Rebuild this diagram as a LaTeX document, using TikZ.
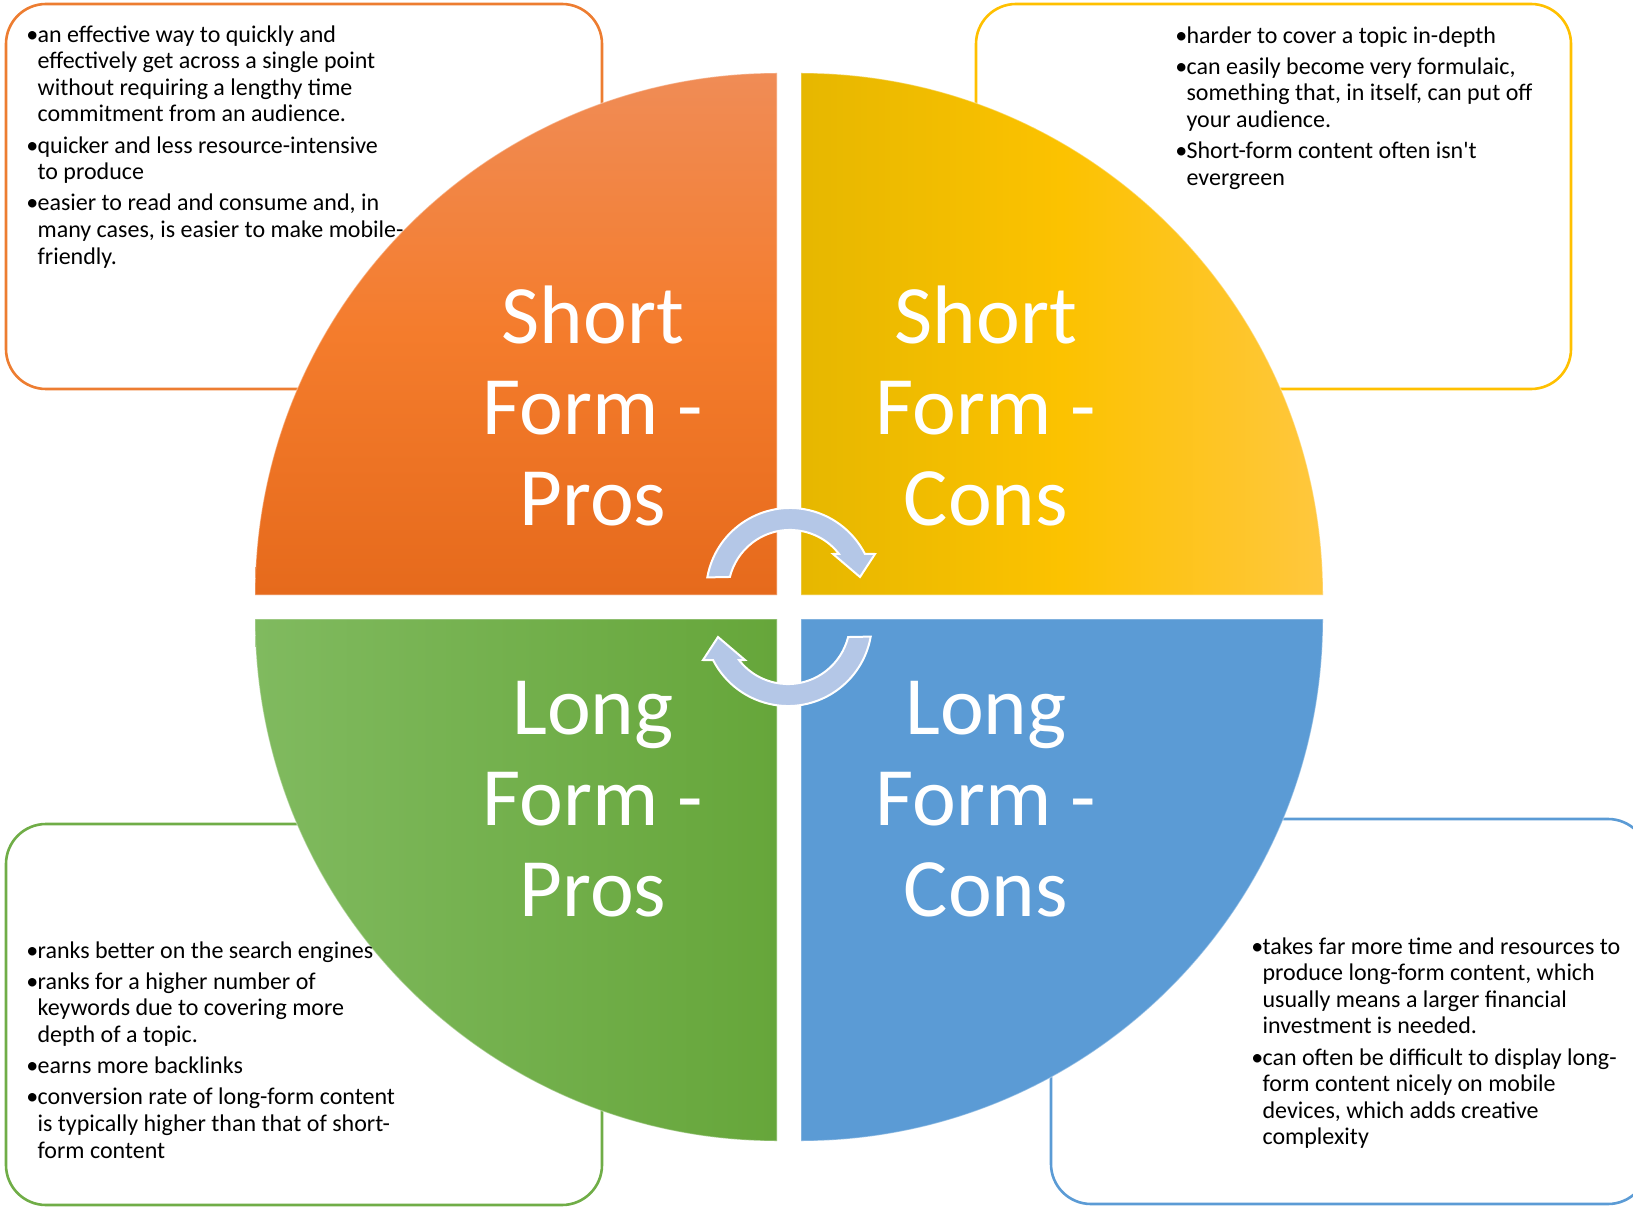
\documentclass[tikz,border=0pt]{standalone}
\usepackage{fontspec}
\setmainfont{Carlito}

\definecolor{spLine}{HTML}{ED7D31}
\definecolor{scLine}{HTML}{FFC000}
\definecolor{lpLine}{HTML}{70AD47}
\definecolor{lcLine}{HTML}{5B9BD5}
\definecolor{spTop}{HTML}{F08C56}
\definecolor{spMid}{HTML}{F47C2C}
\definecolor{spBottom}{HTML}{E66A1C}
\definecolor{scLeft}{HTML}{E6B700}
\definecolor{scMid}{HTML}{FCC200}
\definecolor{scRight}{HTML}{FFC73E}
\definecolor{lpLeft}{HTML}{80BA5F}
\definecolor{lpRight}{HTML}{66A63A}
\definecolor{lcFill}{HTML}{5B9BD5}
\definecolor{cycleFill}{HTML}{B4C7E7}

\newcommand{\dotitem}{\rule{0pt}{8pt}\makebox[5.6pt][l]{•}}
\newcommand{\dotcont}{\hspace*{5.6pt}}
\newcommand{\plainquote}{\XeTeXglyph\XeTeXcharglyph"0027\relax}

\begin{document}
\begin{tikzpicture} [
		x = 0.5pt,
		y = -0.5pt,
		infobox/.style = {
			fill = white,
			line width = 1.3pt,
			rounded corners = 20pt,
		},
		infotext/.style = {
			anchor = north west,
			inner sep = 0pt,
			align = left,
			font = \fontsize{12}{13.3}\selectfont,
		},
		quarter/.style = {
			draw = white,
			draw opacity = 0.35,
			line width = 0.6pt,
		},
		quadlabel/.style = {
			text = white,
			align = center,
			inner sep = 0pt,
			font = \fontsize{41.5}{45.5}\selectfont,
		},
		turn/.style = {
			fill = cycleFill,
			draw = white,
			line width = 1pt,
		},
	]

	\useasboundingbox (0,0) rectangle (1633,1208);
	\clip (0,0) rectangle (1633,1208);

	\coordinate (hub) at (789,607);

	\draw[infobox, draw = spLine] (6,4) rectangle (602,389);
	\draw[infobox, draw = scLine] (976,4) rectangle (1571,389);
	\draw[infobox, draw = lpLine] (6,824) rectangle (602,1205);
	\draw[infobox, draw = lcLine] (1051,819) rectangle (1648,1204);

	\path[quarter, top color = spTop, bottom color = spBottom, middle color = spMid]
		(777,595) -- (255,595) arc[start angle = 180, end angle = 270, radius = 522] -- cycle;
	\path[quarter, left color = scLeft, right color = scRight, middle color = scMid]
		(801,595) -- (801,73) arc[start angle = 270, end angle = 360, radius = 522] -- cycle;
	\path[quarter, left color = lpLeft, right color = lpRight]
		(777,619) -- (255,619) arc[start angle = 180, end angle = 90, radius = 522] -- cycle;
	\path[quarter, fill = lcFill]
		(801,619) -- (1323,619) arc[start angle = 0, end angle = 90, radius = 522] -- cycle;

	\node[infotext] (textSP) at (26,25) {
		\dotitem an effective way to quickly and\\
		\dotcont effectively get across a single point\\
		\dotcont without requiring a lengthy time\\
		\dotcont commitment from an audience.\\[2.3pt]
		\dotitem quicker and less resource-intensive\\
		\dotcont to produce\\[2.3pt]
		\dotitem easier to read and consume and, in\\
		\dotcont many cases, is easier to make mobile-\\
		\dotcont friendly.
	};
	\node[infotext] (textSC) at (1175,26) {
		\dotitem harder to cover a topic in-depth\\[2.3pt]
		\dotitem can easily become very formulaic,\\
		\dotcont something that, in itself, can put off\\
		\dotcont your audience.\\[2.3pt]
		\dotitem Short-form content often isn\plainquote t\\
		\dotcont evergreen
	};
	\node[infotext] (textLP) at (26,941) {
		\dotitem ranks better on the search engines\\[2.3pt]
		\dotitem ranks for a higher number of\\
		\dotcont keywords due to covering more\\
		\dotcont depth of a topic.\\[2.3pt]
		\dotitem earns more backlinks\\[2.3pt]
		\dotitem conversion rate of long-form content\\
		\dotcont is typically higher than that of short-\\
		\dotcont form content
	};
	\node[infotext] (textLC) at (1251,937) {
		\dotitem takes far more time and resources to\\
		\dotcont produce long-form content, which\\
		\dotcont usually means a larger financial\\
		\dotcont investment is needed.\\[2.3pt]
		\dotitem can often be difficult to display long-\\
		\dotcont form content nicely on mobile\\
		\dotcont devices, which adds creative\\
		\dotcont complexity
	};

	\node[quadlabel] (labelSP) at (593,406) {Short\\Form -\\Pros};
	\node[quadlabel] (labelSC) at (986,406) {Short\\Form -\\Cons};
	\node[quadlabel] (labelLP) at (593,799) {Long\\Form -\\Pros};
	\node[quadlabel] (labelLC) at (986,799) {Long\\Form -\\Cons};

	\foreach \spin in {0,180} {
		\begin{scope}[rotate around = {\spin:(hub)}]
			\path[turn] (707.3,577.4) arc[start angle = 190, end angle = 333, radius = 84]
				-- (875,554) -- (860,577) -- (833,554)
				-- (838.9,553.8) arc[start angle = 322, end angle = 194, radius = 62] -- cycle;
		\end{scope}
	}
\end{tikzpicture}
\end{document}
